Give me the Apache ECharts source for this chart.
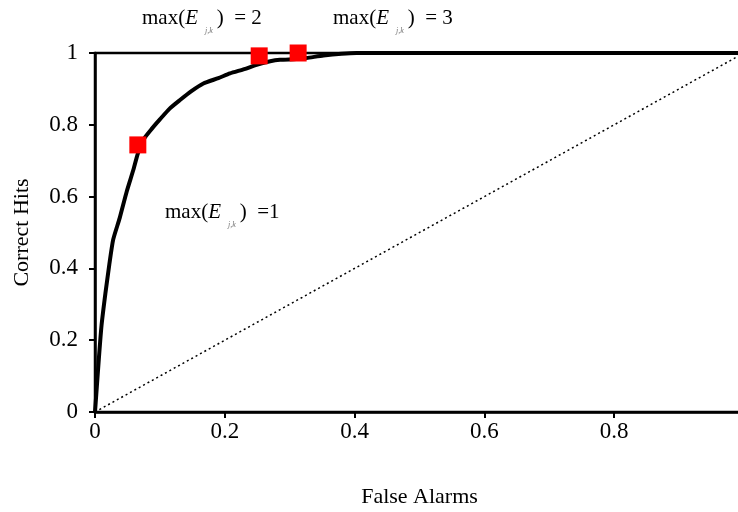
<!DOCTYPE html>
<html>
<head>
<meta charset="utf-8">
<script src="https://cdn.jsdelivr.net/npm/echarts@6/dist/echarts.min.js"></script>
<style>html,body{margin:0;padding:0;background:#fff;}#c{width:738px;height:512px;}</style>
</head>
<body>
<div id="c"></div>
<script>
// ROC curve (False Alarms, Correct Hits)
var rocX = [0, 0.002, 0.006, 0.010, 0.016, 0.022, 0.028, 0.038, 0.049, 0.059, 0.066, 0.075, 0.088, 0.100, 0.115, 0.131, 0.148, 0.167, 0.190, 0.208, 0.230, 0.249, 0.270, 0.285, 0.310, 0.326, 0.352, 0.380, 0.403, 0.600, 0.800, 1.0];
var rocY = [0, 0.05, 0.15, 0.24, 0.33, 0.41, 0.48, 0.54, 0.615, 0.674, 0.72, 0.76, 0.79, 0.815, 0.845, 0.869, 0.893, 0.915, 0.930, 0.943, 0.955, 0.967, 0.977, 0.981, 0.983, 0.986, 0.993, 0.998, 1.0, 1.0, 1.0, 1.0];
// chance diagonal
var diagX = [0, 1];
var diagY = [0, 1];
// operating points max(E_j,k) = 1, 2, 3
var opX = [0.066, 0.253, 0.313];
var opY = [0.744, 0.992, 1.0];
var opNames = ['1', '2', '3'];
var xTicks = [0, 0.2, 0.4, 0.6, 0.8, 1];
var yTicks = [0, 0.2, 0.4, 0.6, 0.8, 1];

function zip(a, b) { return a.map(function (v, i) { return [v, b[i]]; }); }

var serif = '"Liberation Serif", "DejaVu Serif", serif';
var chart = echarts.init(document.getElementById('c'), null, { renderer: 'canvas' });

function lbl(txt, left, top) {
  return {
    type: 'text', left: left, top: top, z: 100,
    style: {
      text: '{a|max(}{e|E}{s|j,k}{a|)' + txt + '}',
      rich: {
        a: { fontFamily: serif, fontSize: 21, fill: '#000', lineHeight: 32 },
        e: { fontFamily: serif, fontSize: 21, fontStyle: 'italic', fill: '#000', lineHeight: 32 },
        s: { fontFamily: serif, fontSize: 8, fontStyle: 'italic', fill: '#777', verticalAlign: 'bottom', lineHeight: 10, padding: [0, 4, 0, 7] }
      }
    }
  };
}

chart.setOption({
  animation: false,
  backgroundColor: '#fff',
  grid: { left: 95, right: -6, top: 53, bottom: 100, outerBoundsMode: 'none', containLabel: false, show: true, borderColor: '#000', borderWidth: 2.5, backgroundColor: 'transparent' },
  xAxis: {
    type: 'value', min: 0, max: 1, interval: 0.2,
    name: 'False Alarms', nameLocation: 'middle', nameGap: 74,
    nameTextStyle: { fontFamily: serif, fontSize: 22, color: '#000' },
    axisLine: { show: true, lineStyle: { color: '#000', width: 2.5 } },
    axisTick: { show: true, length: 6, lineStyle: { color: '#000', width: 2 } },
    axisLabel: { fontFamily: serif, fontSize: 23, color: '#000', margin: 8, formatter: function (v) { return String(+v.toFixed(1)); } },
    splitLine: { show: false }
  },
  yAxis: {
    type: 'value', min: 0, max: 1, interval: 0.2,
    name: 'Correct Hits', nameLocation: 'middle', nameGap: 62,
    nameTextStyle: { fontFamily: serif, fontSize: 22, color: '#000' },
    axisLine: { show: true, lineStyle: { color: '#000', width: 2.5 } },
    axisTick: { show: true, length: 6, lineStyle: { color: '#000', width: 2 } },
    axisLabel: { fontFamily: serif, fontSize: 23, color: '#000', margin: 17, formatter: function (v) { return String(+v.toFixed(1)); } },
    splitLine: { show: false }
  },
  series: [
    {
      type: 'line', data: zip(diagX, diagY), symbol: 'none',
      lineStyle: { color: '#000', width: 1.5, type: [2, 3] }, z: 2
    },
    {
      type: 'line', data: zip(rocX, rocY), symbol: 'none', smooth: 0.2,
      lineStyle: { color: '#000', width: 4 }, z: 3
    },
    {
      type: 'scatter', data: zip(opX, opY), symbol: 'rect', symbolSize: 17,
      itemStyle: { color: '#ff0000', opacity: 1 }, z: 5
    }
  ],
  graphic: [
    lbl('  = 2', 142, 8),
    lbl('  = 3', 333, 8),
    lbl('  =1', 165, 202)
  ]
});
</script>
</body>
</html>
